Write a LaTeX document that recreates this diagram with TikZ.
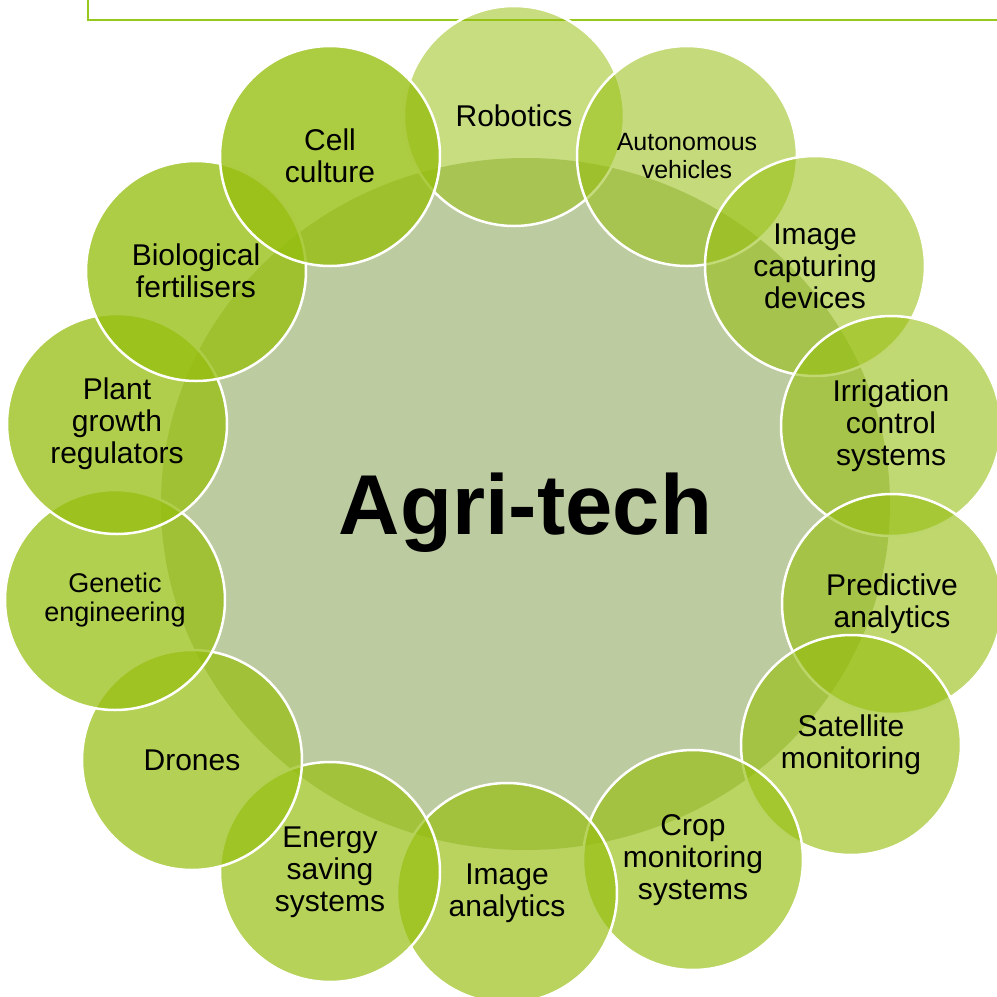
\documentclass[tikz,border=0pt]{standalone}
\usepackage{fontspec}
\setmainfont{Liberation Sans}
\usetikzlibrary{shapes.geometric}
\definecolor{leafgreen}{RGB}{150,190,15}
\definecolor{hubgrey}{RGB}{189,203,160}
\definecolor{framegreen}{RGB}{150,200,30}

\begin{document}
\begin{tikzpicture}
  [
  x=1pt, y=-1pt,
  techcircle/.style={circle, inner sep=0pt, minimum size=220pt, draw=white,
    line width=2.5pt, fill=leafgreen, text opacity=1, align=center,
    font=\fontsize{30}{32}\selectfont},
  smalltext/.style={font=\fontsize{25}{28}\selectfont},
  hubnode/.style={ellipse, inner sep=0pt, minimum width=729pt, minimum height=692pt,
    fill=hubgrey, text depth=0pt, font=\fontsize{85}{90}\selectfont\bfseries},
  ]
  \clip (0,0) rectangle (997,997);

  % frame of the slide
  \coordinate (frametop) at (88,0);
  \coordinate (framecorner) at (88,20);
  \coordinate (frameright) at (997,20);
  \draw[framegreen, line width=1.5pt] (frametop) -- (framecorner) -- (frameright);

  \node[hubnode] (agritech) at (525.5,504) {Agri-tech};

  \node[techcircle, fill opacity=0.53] (robotics) at (514,116) {Robotics};
  \node[techcircle, smalltext, fill opacity=0.55] (autonomous) at (687,156) {Autonomous\\vehicles};
  \node[techcircle, fill opacity=0.57] (imagecapture) at (815,266) {Image\\capturing\\devices};
  \node[techcircle, fill opacity=0.59] (irrigation) at (891,426) {Irrigation\\control\\systems};
  \node[techcircle, fill opacity=0.61] (predictive) at (892,604) {Predictive\\analytics};
  \node[techcircle, fill opacity=0.63] (satellite) at (851,745) {Satellite\\monitoring};
  \node[techcircle, fill opacity=0.65] (cropmon) at (693,860) {Crop\\monitoring\\systems};
  \node[techcircle, fill opacity=0.67] (imageanalytics) at (507,893) {Image\\analytics};
  \node[techcircle, fill opacity=0.69] (energy) at (330,872) {Energy\\saving\\systems};
  \node[techcircle, fill opacity=0.71] (drones) at (192,760) {Drones};
  \node[techcircle, font=\fontsize{27}{29}\selectfont, fill opacity=0.73] (genetic) at (115,600) {Genetic\\engineering};
  \node[techcircle, fill opacity=0.75] (plantgrowth) at (117,424) {Plant\\growth\\regulators};
  \node[techcircle, fill opacity=0.77] (biofert) at (196,271) {Biological\\fertilisers};
  \node[techcircle, fill opacity=0.79] (cellculture) at (330,156) {Cell\\culture};
\end{tikzpicture}
\end{document}
